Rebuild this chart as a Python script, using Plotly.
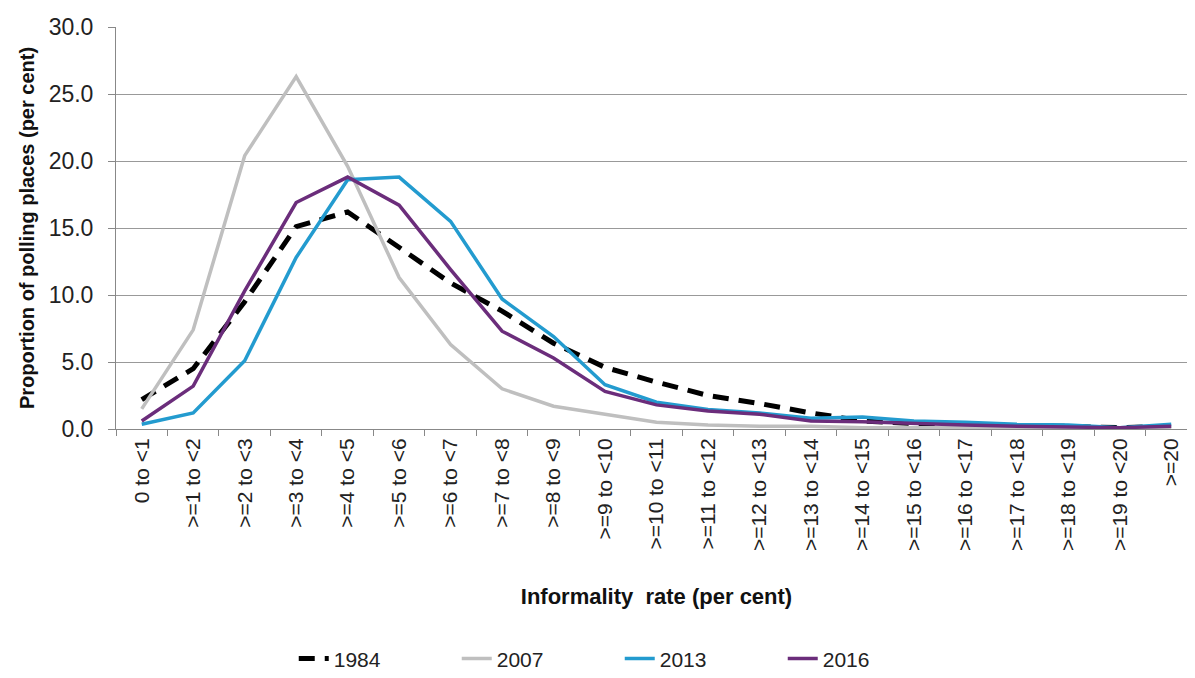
import plotly.graph_objects as go

categories = ["0 to <1", ">=1 to <2", ">=2 to <3", ">=3 to <4", ">=4 to <5", ">=5 to <6",
              ">=6 to <7", ">=7 to <8", ">=8 to <9", ">=9 to <10", ">=10 to <11",
              ">=11 to <12", ">=12 to <13", ">=13 to <14", ">=14 to <15", ">=15 to <16",
              ">=16 to <17", ">=17 to <18", ">=18 to <19", ">=19 to <20", ">=20"]

y1984 = [2.2, 4.5, 9.5, 15.1, 16.2, 13.6, 10.9, 8.8, 6.4, 4.6, 3.5, 2.5, 1.9, 1.2,
         0.6, 0.4, 0.3, 0.2, 0.2, 0.1, 0.2]
y2007 = [1.5, 7.4, 20.4, 26.3, 19.6, 11.3, 6.3, 3.0, 1.7, 1.1, 0.5, 0.3, 0.2, 0.2,
         0.1, 0.1, 0.1, 0.1, 0.1, 0.05, 0.1]
y2013 = [0.35, 1.2, 5.1, 12.8, 18.6, 18.8, 15.5, 9.7, 6.9, 3.3, 2.0, 1.45, 1.2, 0.8,
         0.9, 0.6, 0.5, 0.35, 0.3, 0.1, 0.35]
y2016 = [0.6, 3.2, 10.3, 16.9, 18.8, 16.7, 11.9, 7.3, 5.3, 2.8, 1.8, 1.35, 1.1, 0.6,
         0.55, 0.4, 0.3, 0.2, 0.15, 0.1, 0.2]

y_ticks = [0, 5, 10, 15, 20, 25, 30]

fig = go.Figure()
fig.add_trace(go.Scatter(x=categories, y=y1984, name="1984", mode="lines",
                         line=dict(color="black", width=5, dash="16px,10px")))
fig.add_trace(go.Scatter(x=categories, y=y2007, name="2007", mode="lines",
                         line=dict(color="#BFBFBF", width=3.5)))
fig.add_trace(go.Scatter(x=categories, y=y2013, name="2013", mode="lines",
                         line=dict(color="#239BCF", width=3.5)))
fig.add_trace(go.Scatter(x=categories, y=y2016, name="2016", mode="lines",
                         line=dict(color="#6B2D7B", width=3.5)))

fig.update_layout(
    width=1195, height=678,
    margin=dict(l=108, r=6, t=19, b=247),
    plot_bgcolor="white", paper_bgcolor="white",
    font=dict(family="Liberation Sans, Arial, sans-serif", size=20, color="#222"),
    showlegend=True,
    legend=dict(orientation="h", x=0.466, xanchor="center",
                y=-0.572, yanchor="middle", entrywidth=118, entrywidthmode="pixels",
                font=dict(size=21, color="#222"), traceorder="normal"),
    xaxis=dict(
        type="category", range=[-0.5, 20.5], automargin=False,
        tickangle=-90, tickson="boundaries", ticks="outside", ticklen=6,
        tickcolor="#888", showline=True, linecolor="#888", linewidth=1,
        showgrid=False, tickfont=dict(size=21, color="#222"),
        title=dict(text="<b>Informality  rate (per cent)</b>", standoff=38,
                   font=dict(size=22, color="#111")),
    ),
    yaxis=dict(
        range=[0, 30], tickvals=y_ticks, tickformat=".1f", automargin=False,
        ticks="outside", ticklen=7, tickcolor="#888", ticklabelstandoff=10,
        showline=True, linecolor="#888", linewidth=1,
        showgrid=True, gridcolor="#999", gridwidth=1, zeroline=False,
        tickfont=dict(size=23, color="#222"),
        title=dict(text="<b>Proportion of polling places (per cent)</b>", standoff=8,
                   font=dict(size=20, color="#111")),
    ),
)

fig.write_html("out.html")
